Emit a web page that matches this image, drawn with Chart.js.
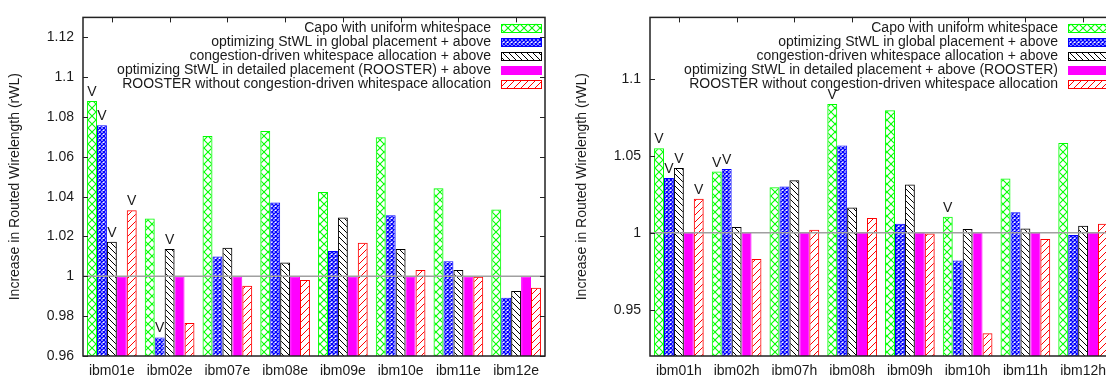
<!DOCTYPE html>
<html>
<head>
<meta charset="utf-8">
<script src="https://cdn.jsdelivr.net/npm/chart.js@4/dist/chart.umd.min.js"></script>
<style>
  html, body { margin: 0; padding: 0; background: #fff; overflow: hidden; }
  #wrap { position: relative; width: 1106px; height: 381px; overflow: hidden; }
  canvas { position: absolute; top: 0; }
  #chart-e { left: 0; }
  #chart-h { left: 567px; }
</style>
</head>
<body>
<div id="wrap">
  <canvas id="chart-e" width="567" height="381"></canvas>
  <canvas id="chart-h" width="567" height="381"></canvas>
</div>
<script>
// series labels (same for both panels)
const seriesLabelsE = [
  'Capo with uniform whitespace',
  'optimizing StWL in global placement + above',
  'congestion-driven whitespace allocation + above',
  'optimizing StWL in detailed placement (ROOSTER) + above',
  'ROOSTER without congestion-driven whitespace allocation'
];
const seriesLabelsH = [
  'Capo with uniform whitespace',
  'optimizing StWL in global placement + above',
  'congestion-driven whitespace allocation + above',
  'optimizing StWL in detailed placement + above (ROOSTER)',
  'ROOSTER without congestion-driven whitespace allocation'
];

// ibm..e benchmarks
const benchE = ['ibm01e', 'ibm02e', 'ibm07e', 'ibm08e', 'ibm09e', 'ibm10e', 'ibm11e', 'ibm12e'];
const capoE    = [1.088, 1.029, 1.0705, 1.073, 1.0423, 1.0698, 1.0442, 1.0335];
const globalE  = [1.0759, 0.9693, 1.0100, 1.0371, 1.0127, 1.0307, 1.0076, 0.9892];
const congE    = [1.0173, 1.0137, 1.0144, 1.0069, 1.0295, 1.0137, 1.0032, 0.9926];
const roosterE = [1, 1, 1, 1, 1, 1, 1, 1];
const noCongE  = [1.0332, 0.9766, 0.9953, 0.9982, 1.0168, 1.0032, 0.9998, 0.9943];
const yTicksE  = [0.96, 0.98, 1, 1.02, 1.04, 1.06, 1.08, 1.1, 1.12];
// [series, benchmark] pairs marked with a "V"
const vMarksE  = [[0, 0], [1, 0], [2, 0], [4, 0], [1, 1], [2, 1]];

// ibm..h benchmarks
const benchH = ['ibm01h', 'ibm02h', 'ibm07h', 'ibm08h', 'ibm09h', 'ibm10h', 'ibm11h', 'ibm12h'];
const capoH    = [1.055, 1.0398, 1.0296, 1.0838, 1.0796, 1.0104, 1.0354, 1.0584];
const globalH  = [1.0356, 1.0415, 1.0302, 1.0567, 1.0059, 0.9821, 1.0134, 0.9986];
const congH    = [1.0421, 1.0038, 1.0342, 1.0165, 1.0315, 1.0025, 1.0029, 1.0046];
const roosterH = [1, 1, 1, 1, 1, 1, 1, 1];
const noCongH  = [1.0221, 0.9831, 1.0021, 1.0096, 0.9996, 0.9348, 0.9961, 1.0059];
const yTicksH  = [0.95, 1, 1.05, 1.1];
const vMarksH  = [[0, 0], [1, 0], [2, 0], [4, 0], [0, 1], [1, 1], [0, 3], [0, 5]];

const FONT = "'Liberation Sans', Arial, Helvetica, sans-serif";
const FSIZE = 14;
const TEXT = '#1a1a1a';

// fill patterns, gnuplot style
function hatch(kind, color) {
  const c = document.createElement('canvas');
  const x = c.getContext('2d');
  if (kind === 'cross' || kind === 'dense') {
    const s = kind === 'cross' ? 8 : 4;
    c.width = c.height = s;
    if (kind === 'dense') { x.fillStyle = '#fff'; x.fillRect(0, 0, s, s); }
    x.strokeStyle = color; x.lineWidth = kind === 'cross' ? 1.1 : 1.4;
    x.beginPath();
    x.moveTo(0, 0); x.lineTo(s, s);
    x.moveTo(s, 0); x.lineTo(0, s);
    x.stroke();
  } else {
    const s = kind === 'back' ? 6 : 7;
    c.width = c.height = s;
    x.strokeStyle = color; x.lineWidth = 1;
    x.beginPath();
    if (kind === 'back') {
      x.moveTo(-1, -1); x.lineTo(s + 1, s + 1);
      x.moveTo(-1, s - 1); x.lineTo(1, s + 1);
      x.moveTo(s - 1, -1); x.lineTo(s + 1, 1);
    } else {
      x.moveTo(-1, s + 1); x.lineTo(s + 1, -1);
      x.moveTo(-1, 1); x.lineTo(1, -1);
      x.moveTo(s - 1, s + 1); x.lineTo(s + 1, s - 1);
    }
    x.stroke();
  }
  return x.createPattern(c, 'repeat');
}

const styles = [
  { fill: () => hatch('cross', '#00ff00'), border: '#00ff00' },
  { fill: () => hatch('dense', '#0000ff'), border: '#0000ff' },
  { fill: () => hatch('back', '#000000'), border: '#000000' },
  { fill: () => '#ff00ff', border: '#ff00ff' },
  { fill: () => hatch('fwd', '#ff0000'), border: '#ff0000' }
];

// frame, inward tics, reference line at 1, legend and "V" marks
const decorations = {
  id: 'decorations',
  afterDatasetsDraw(chart, args, opts) {
    const { ctx, chartArea: a, scales } = chart;
    const y = scales.y, xs = scales.x;
    ctx.save();
    // reference line at 1
    const y1 = y.getPixelForValue(1);
    ctx.strokeStyle = '#a0a0a0'; ctx.lineWidth = 1.5;
    ctx.beginPath(); ctx.moveTo(a.left, y1); ctx.lineTo(a.right, y1); ctx.stroke();

    // frame
    ctx.strokeStyle = '#222'; ctx.lineWidth = 1.5;
    ctx.strokeRect(a.left, a.top, a.right - a.left, a.bottom - a.top);
    ctx.lineWidth = 1;
    ctx.beginPath();
    opts.ticks.forEach(v => {
      const p = Math.round(y.getPixelForValue(v)) + 0.5;
      ctx.moveTo(a.left, p); ctx.lineTo(a.left + 5, p);
      ctx.moveTo(a.right, p); ctx.lineTo(a.right - 5, p);
    });
    for (let i = 0; i < xs.ticks.length; i++) {
      const p = Math.round(xs.getPixelForTick(i)) + 0.5;
      ctx.moveTo(p, a.top); ctx.lineTo(p, a.top + 5);
    }
    ctx.stroke();

    // "V" marks over bars
    ctx.fillStyle = TEXT;
    ctx.font = FSIZE + 'px ' + FONT;
    ctx.textAlign = 'center';
    ctx.textBaseline = 'alphabetic';
    opts.marks.forEach(([d, i]) => {
      const bar = chart.getDatasetMeta(d).data[i];
      ctx.fillText('V', bar.x, bar.y - 5);
    });

    // legend, top right inside the plot
    ctx.textAlign = 'right';
    ctx.textBaseline = 'middle';
    chart.data.datasets.forEach((ds, i) => {
      const cy = a.top + 10.5 + i * 14.1;
      ctx.fillStyle = TEXT;
      ctx.fillText(ds.label, a.right - 54, cy);
      const bx = a.right - 44, bw = 40, bh = 8;
      ctx.fillStyle = ds.backgroundColor;
      ctx.fillRect(bx, cy - bh / 2, bw, bh);
      ctx.strokeStyle = ds.borderColor; ctx.lineWidth = 1;
      ctx.strokeRect(bx + 0.5, Math.round(cy - bh / 2) + 0.5, bw, bh);
    });
    ctx.restore();
  }
};

function makeChart(id, labels, series, names, yMin, yMax, yTicks, marks) {
  const ctx = document.getElementById(id).getContext('2d');
  return new Chart(ctx, {
    type: 'bar',
    data: {
      labels: labels,
      datasets: series.map((data, i) => ({
        label: names[i],
        data: data,
        backgroundColor: styles[i].fill(),
        borderColor: styles[i].border,
        borderWidth: 1,
        borderSkipped: 'start'
      }))
    },
    options: {
      responsive: false,
      animation: false,
      devicePixelRatio: 1,
      layout: { padding: { left: 0, right: 22, top: 5, bottom: 0 } },
      datasets: { bar: { categoryPercentage: 0.86, barPercentage: 1 } },
      plugins: {
        legend: { display: false },
        tooltip: { enabled: false },
        decorations: { ticks: yTicks, marks: marks }
      },
      scales: {
        x: {
          grid: { display: false, drawTicks: false },
          border: { display: false },
          ticks: { color: TEXT, font: { family: FONT, size: FSIZE }, padding: 7, maxRotation: 0 },
          afterFit: s => { s.height = 25; }
        },
        y: {
          min: yMin,
          max: yMax,
          grid: { display: false, drawTicks: false },
          border: { display: false },
          afterBuildTicks: s => { s.ticks = yTicks.map(v => ({ value: v })); },
          ticks: {
            color: TEXT,
            font: { family: FONT, size: FSIZE },
            padding: 9,
            callback: v => String(+v.toFixed(2))
          },
          title: {
            display: true,
            text: 'Increase in Routed Wirelength (rWL)',
            color: TEXT,
            font: { family: FONT, size: FSIZE },
            padding: { top: 7, bottom: 0 }
          },
          afterFit: s => { s.width = 83; }
        }
      }
    },
    plugins: [decorations]
  });
}

makeChart('chart-e', benchE, [capoE, globalE, congE, roosterE, noCongE], seriesLabelsE,
  0.96, 1.13, yTicksE, vMarksE);
makeChart('chart-h', benchH, [capoH, globalH, congH, roosterH, noCongH], seriesLabelsH,
  0.92, 1.14, yTicksH, vMarksH);
</script>
</body>
</html>
